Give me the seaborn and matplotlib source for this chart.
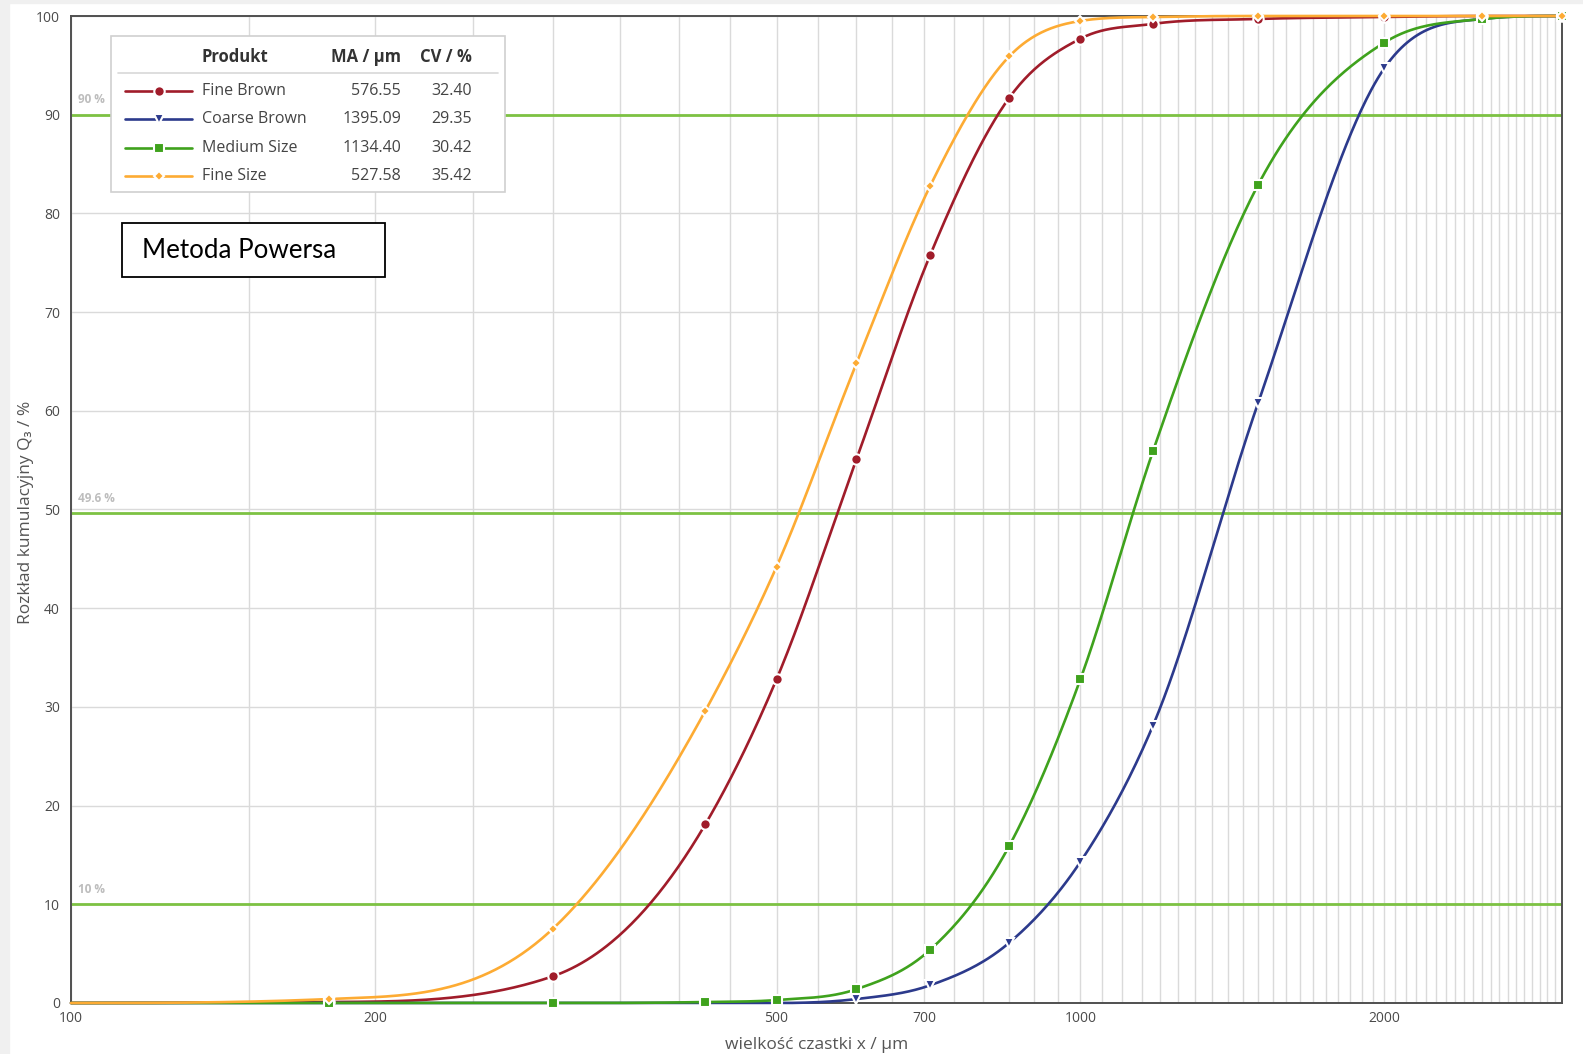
import numpy as np
import pandas as pd
import matplotlib
matplotlib.use("Agg")
import matplotlib.pyplot as plt
from matplotlib.lines import Line2D
from matplotlib.patches import Rectangle
from matplotlib.ticker import FixedLocator, NullFormatter, FixedFormatter
import seaborn as sns

# ---------------- data ----------------
sizes = [180, 300, 425, 500, 600, 710, 850, 1000, 1180, 1500, 2000, 2500, 3000]
fine_brown = [0.1, 2.7, 18.1, 32.8, 55.1, 75.8, 91.7, 97.7, 99.2, 99.7, 99.9, 100, 100]
coarse_brown = [0, 0, 0, 0, 0.4, 1.8, 6.1, 14.3, 28.1, 60.8, 94.7, 99.7, 100]
medium_size = [0, 0, 0.1, 0.3, 1.4, 5.4, 15.9, 32.8, 55.9, 82.9, 97.3, 99.7, 100]
fine_size = [0.4, 7.5, 29.6, 44.2, 64.8, 82.8, 95.9, 99.5, 99.9, 100, 100, 100, 100]

series_names = ["Fine Brown", "Coarse Brown", "Medium Size", "Fine Size"]
ma_values = ["576.55", "1395.09", "1134.40", "527.58"]
cv_values = ["32.40", "29.35", "30.42", "35.42"]
thresholds = [90, 49.6, 10]
threshold_labels = ["90 %", "49.6 %", "10 %"]
x_tick_values = [100, 200, 500, 700, 1000, 2000]
y_tick_values = list(range(0, 101, 10))
x_min, x_max = 100, 3000

colors = ["#a01c2a", "#2c3a8c", "#3fa21d", "#fdab33"]
markers = ["o", "v", "s", "D"]
msizes = [7.5, 7, 7, 5]

all_series = [fine_brown, coarse_brown, medium_size, fine_size]

# ------------- smooth curve (shape-preserving cubic in log-x) -------------
def smooth_curve(x, y, xn):
    x = np.asarray(x, float); y = np.asarray(y, float)
    h = np.diff(x); d = np.diff(y) / h
    n = len(x); m = np.zeros(n)
    for k in range(1, n - 1):
        m[k] = (h[k] * d[k - 1] + h[k - 1] * d[k]) / (h[k - 1] + h[k])
    m[0] = max(0.0, (3 * d[0] - m[1]) / 2)
    m[-1] = max(0.0, (3 * d[-1] - m[-2]) / 2)
    for k in range(n - 1):
        if d[k] == 0:
            m[k] = 0.0; m[k + 1] = 0.0
            continue
        a = m[k] / d[k]; b = m[k + 1] / d[k]
        if a < 0: m[k] = 0.0; a = 0.0
        if b < 0: m[k + 1] = 0.0; b = 0.0
        s = a * a + b * b
        if s > 9:
            t = 3 / np.sqrt(s)
            m[k] = t * a * d[k]; m[k + 1] = t * b * d[k]
    idx = np.clip(np.searchsorted(x, xn) - 1, 0, n - 2)
    t = (xn - x[idx]) / h[idx]
    h00 = 2 * t**3 - 3 * t**2 + 1
    h10 = t**3 - 2 * t**2 + t
    h01 = -2 * t**3 + 3 * t**2
    h11 = t**3 - t**2
    out = h00 * y[idx] + h10 * h[idx] * m[idx] + h01 * y[idx + 1] + h11 * h[idx] * m[idx + 1]
    return np.clip(out, 0, 100)

W, H = 1583, 1054
sns.set_theme(style="white")
plt.rcParams["font.family"] = ["Open Sans", "DejaVu Sans"]

fig = plt.figure(figsize=(W / 100, H / 100), dpi=100, facecolor="white")
ax_l, ax_r, ax_t, ax_b = 71, 1562, 16, 1003
ax = fig.add_axes([ax_l / W, 1 - ax_b / H, (ax_r - ax_l) / W, (ax_b - ax_t) / H])

# gray screenshot frame
fig.patches.append(Rectangle((0, 0), 9 / W, 1, transform=fig.transFigure, color="#f0f0f0", zorder=0))
fig.patches.append(Rectangle((0, 1 - 3 / H), 1, 3 / H, transform=fig.transFigure, color="#f0f0f0", zorder=0))

ax.set_xscale("log")
ax.set_xlim(x_min, x_max)
ax.set_ylim(0, 100)

# grid
minor_x = np.arange(100, 3001, 50)
for xv in minor_x:
    ax.axvline(xv, color="#dadada", lw=1.0, zorder=0)
for yv in y_tick_values:
    ax.axhline(yv, color="#dadada", lw=1.0, zorder=0)

# thresholds
for tv, tl in zip(thresholds, threshold_labels):
    ax.axhline(tv, color="#7dc243", lw=2.0, zorder=1)
    ax.annotate(tl, xy=(x_min, tv), xytext=(5, 6), textcoords="offset points",
                fontsize=8.5, fontweight="bold", color="#bdbdbd", ha="left", va="bottom")

# curves
for vals, col, mk, ms, name in zip(all_series, colors, markers, msizes, series_names):
    lx = np.log10([x_min] + sizes)
    ly = [0.0] + vals
    xn = np.linspace(lx[0], lx[-1], 900)
    yn = smooth_curve(lx, ly, xn)
    df_line = pd.DataFrame({"x": 10 ** xn, "y": yn})
    sns.lineplot(data=df_line, x="x", y="y", ax=ax, color=col, lw=1.9, sort=False,
                 estimator=None, zorder=3, clip_on=False)
    df_pts = pd.DataFrame({"x": sizes, "y": vals})
    ax.plot(df_pts["x"], df_pts["y"], linestyle="none", marker=mk, markersize=ms,
            markerfacecolor=col, markeredgecolor="white", markeredgewidth=1.5,
            zorder=4, clip_on=False)

# ticks
ax.xaxis.set_major_locator(FixedLocator(x_tick_values))
ax.xaxis.set_major_formatter(FixedFormatter([str(v) for v in x_tick_values]))
ax.xaxis.set_minor_locator(FixedLocator(minor_x))
ax.xaxis.set_minor_formatter(NullFormatter())
ax.set_yticks(y_tick_values)
ax.tick_params(axis="both", which="major", direction="in", length=7, width=1.2,
               color="#444444", labelsize=10, labelcolor="#4a4a4a")
ax.tick_params(axis="x", which="minor", direction="in", length=4, width=1.0, color="#555555")
ax.tick_params(axis="x", which="major", pad=6)
ax.tick_params(axis="y", which="major", pad=8)

for sp in ax.spines.values():
    sp.set_visible(True)
    sp.set_color("#505050")
    sp.set_linewidth(1.4)

ax.set_xlabel("wielkość czastki x / µm", fontsize=12.5, color="#555555", labelpad=8)
ax.set_ylabel("Rozkład kumulacyjny Q₃ / %", fontsize=12.5, color="#555555", labelpad=14)
ax.yaxis.set_label_coords(-37 / (ax_r - ax_l), 0.497)

# ---------------- custom legend table ----------------
def fx(px):
    return px / W

def fy(py):
    return 1 - py / H

fig.patches.append(Rectangle((fx(111), fy(192)), fx(505) - fx(111), fy(36) - fy(192),
                             transform=fig.transFigure, facecolor="white",
                             edgecolor="#d0d0d0", lw=1.2, zorder=5))
fig.text(fx(202), fy(57), "Produkt", fontsize=12, fontweight="bold", color="#333333",
         ha="left", va="center", zorder=6)
fig.text(fx(401), fy(57), "MA / µm", fontsize=12, fontweight="bold", color="#333333",
         ha="right", va="center", zorder=6)
fig.text(fx(472), fy(57), "CV / %", fontsize=12, fontweight="bold", color="#333333",
         ha="right", va="center", zorder=6)
fig.lines.append(Line2D([fx(118), fx(498)], [fy(73), fy(73)], transform=fig.transFigure,
                        color="#d8d8d8", lw=1.2, zorder=6))
row_y = [91, 119, 147.5, 176]
for ry, name, ma, cv, col, mk, ms in zip(row_y, series_names, ma_values, cv_values, colors, markers, msizes):
    fig.lines.append(Line2D([fx(125), fx(192)], [fy(ry), fy(ry)], transform=fig.transFigure,
                            color=col, lw=1.9, zorder=6))
    fig.lines.append(Line2D([fx(158.5)], [fy(ry)], transform=fig.transFigure, marker=mk,
                            markersize=ms, markerfacecolor=col, markeredgecolor="white",
                            markeredgewidth=1.5, linestyle="none", zorder=7))
    fig.text(fx(202), fy(ry), name, fontsize=11.5, color="#444444", ha="left", va="center", zorder=6)
    fig.text(fx(401), fy(ry), ma, fontsize=11.5, color="#444444", ha="right", va="center", zorder=6)
    fig.text(fx(472), fy(ry), cv, fontsize=11.5, color="#444444", ha="right", va="center", zorder=6)

# Metoda Powersa box
fig.patches.append(Rectangle((fx(122), fy(277)), fx(385) - fx(122), fy(223) - fy(277),
                             transform=fig.transFigure, facecolor="white",
                             edgecolor="black", lw=1.3, zorder=5))
fig.text(fx(142), fy(251), "Metoda Powersa", fontsize=18.7, color="black",
         family=["Lato", "DejaVu Sans"], ha="left", va="center", zorder=6)

fig.savefig("out.png", dpi=100, facecolor="white")
